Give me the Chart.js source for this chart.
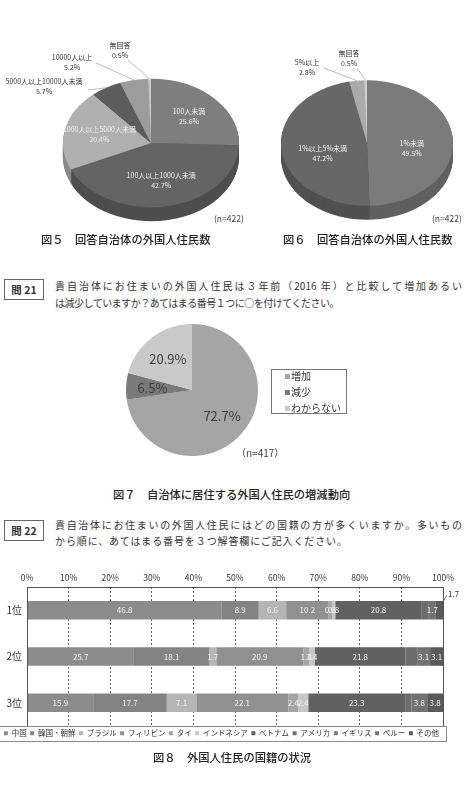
<!DOCTYPE html>
<html>
<head>
<meta charset="utf-8">
<script src="https://cdn.jsdelivr.net/npm/chart.js@4.4.0/dist/chart.umd.min.js"></script>
<style>
  body { margin: 0; background: #fff; font-family: "Noto Sans CJK JP", sans-serif; color: #333; }
  #page { position: relative; width: 464px; height: 800px; overflow: hidden; }
  .t { position: absolute; white-space: nowrap; }
  canvas { position: absolute; }
  .cap { font-size: 11.3px; line-height: 16px; color: #222; font-weight: 500; }
  .qbox { position: absolute; box-sizing: border-box; border: 1px solid #666; width: 40px; height: 21px;
          line-height: 19px; text-align: center; font-size: 10.5px; font-weight: bold; color: #333; }
  .ln { font-size: 10px; line-height: 14px; color: #333; text-align: justify; text-align-last: justify; }
  .n { font-size: 8.5px; line-height: 12px; color: #444; }
  #lg7 { position: absolute; left: 271px; top: 369px; width: 76px; height: 45px; box-sizing: border-box;
         border: 1px solid #777; font-size: 10px; color: #333; }
  #lg7 div { position: absolute; left: 19px; line-height: 14px; white-space: nowrap; }
  #lg7 span { position: absolute; left: -6px; top: 5px; width: 5px; height: 5px; }
</style>
</head>
<body>
<div id="page">
  <canvas id="fig5" width="240" height="205" style="left:0;top:30px"></canvas>
  <canvas id="fig6" width="224" height="205" style="left:240px;top:30px"></canvas>
  <div class="t n" style="left:214px;top:212px">(n=422)</div>
  <div class="t n" style="left:432px;top:212px">(n=422)</div>
  <div class="t cap" style="left:41px;top:231px">図５　回答自治体の外国人住民数</div>
  <div class="t cap" style="left:283px;top:231px">図６　回答自治体の外国人住民数</div>

  <div class="qbox" style="left:4px;top:279px">問 21</div>
  <div class="t ln" style="left:55px;top:279px;width:407px">貴自治体にお住まいの外国人住民は３年前（2016 年）と比較して増加あるい</div>
  <div class="t ln" style="left:55px;top:296px;letter-spacing:-0.5px;text-align:left;text-align-last:left">は減少していますか？あてはまる番号１つに○を付けてください。</div>

  <canvas id="fig7" width="260" height="150" style="left:100px;top:315px"></canvas>
  <div id="lg7"></div>
  <div class="t" style="left:236px;top:446px;font-size:10px;line-height:14px;color:#444">（n=417）</div>
  <div class="t cap" style="left:113px;top:486px">図７　自治体に居住する外国人住民の増減動向</div>

  <div class="qbox" style="left:4px;top:520px">問 22</div>
  <div class="t ln" style="left:55px;top:518px;width:407px">貴自治体にお住まいの外国人住民にはどの国籍の方が多くいますか。多いもの</div>
  <div class="t ln" style="left:55px;top:534px;width:292px">から順に、あてはまる番号を３つ解答欄にご記入ください。</div>

  <canvas id="fig8" width="464" height="185" style="left:0;top:565px"></canvas>
  <div class="t cap" style="left:153px;top:749px">図８　外国人住民の国籍の状況</div>
</div>

<script>
// 図5 外国人住民数
const fig5Labels = ['100人未満', '100人以上1000人未満', '1000人以上5000人未満', '5000人以上10000人未満', '10000人以上', '無回答'];
const fig5Values = [25.6, 42.7, 20.4, 5.7, 5.2, 0.5];

// 図6 外国人住民の割合
const fig6Labels = ['1%未満', '1%以上5%未満', '5%以上', '無回答'];
const fig6Values = [49.5, 47.2, 2.8, 0.5];

// 図7 増減動向
const fig7Labels = ['増加', '減少', 'わからない'];
const fig7Values = [72.7, 6.5, 20.9];

// 図8 国籍 (1位, 2位, 3位)
const rankLabels = ['1位', '2位', '3位'];
const axisTicks = [0, 10, 20, 30, 40, 50, 60, 70, 80, 90, 100];
const china = [46.8, 25.7, 15.9];
const korea = [8.9, 18.1, 17.7];
const brazil = [6.6, 1.7, 7.1];
const philippines = [10.2, 20.9, 22.1];
const thailand = [0.8, 1.4, 2.4];
const indonesia = [0.8, 1.4, 2.4];
const vietnam = [20.8, 21.8, 23.3];
const usa = [1.7, 2.8, 1.5];
const uk = [0, 0, 0];
const peru = [1.7, 3.1, 3.8];
const others = [1.7, 3.1, 3.8];

Chart.defaults.font.family = '"Noto Sans CJK JP", sans-serif';
Chart.defaults.color = '#333';

const shade = (hex, f) => {
  const n = parseInt(hex.slice(1), 16);
  const c = [n >> 16, (n >> 8) & 255, n & 255].map(v => Math.round(v * f));
  return 'rgb(' + c.join(',') + ')';
};

// pie drawn squashed (with a rim) to look like the tilted pies in the report
const tiltPie = {
  id: 'tiltPie',
  beforeDatasetsDraw(chart, args, opts) {
    const meta = chart.getDatasetMeta(0);
    const cx = meta.data[0].x, cy = meta.data[0].y, s = opts.squash;
    const ctx = chart.ctx;
    for (let d = opts.depth; d >= 1; d--) {
      ctx.save();
      ctx.translate(0, d);
      ctx.translate(cx, cy); ctx.scale(1, s); ctx.translate(-cx, -cy);
      meta.data.forEach((arc, i) => {
        const orig = arc.options;
        const c = shade(chart.data.datasets[0].backgroundColor[i], 0.78);
        arc.options = Object.assign({}, orig, { backgroundColor: c, borderColor: c, borderWidth: 0 });
        arc.draw(ctx);
        arc.options = orig;
      });
      ctx.restore();
    }
    ctx.save();
    ctx.translate(cx, cy); ctx.scale(1, s); ctx.translate(-cx, -cy);
  },
  afterDatasetsDraw(chart, args, opts) {
    const ctx = chart.ctx;
    ctx.restore();
    const meta = chart.getDatasetMeta(0);
    const ds = chart.data.datasets[0];
    const cx = meta.data[0].x, cy = meta.data[0].y, s = opts.squash;
    ctx.save();
    ctx.textAlign = 'center';
    ctx.textBaseline = 'middle';
    meta.data.forEach((arc, i) => {
      const pct = ds.data[i].toFixed(1) + '%';
      const mid = (arc.startAngle + arc.endAngle) / 2;
      const call = (opts.callouts || []).find(c => c.i === i);
      if (call) {
        const ex = cx + Math.cos(mid) * arc.outerRadius;
        const ey = cy + Math.sin(mid) * arc.outerRadius * s;
        ctx.strokeStyle = '#aaa'; ctx.lineWidth = 0.8;
        ctx.beginPath(); ctx.moveTo(call.ax, call.ay); ctx.lineTo(ex, ey); ctx.stroke();
        ctx.fillStyle = '#333';
        ctx.font = opts.font;
        ctx.fillText(chart.data.labels[i], call.x, call.y);
        ctx.fillText(pct, call.x, call.y + opts.lineGap);
        return;
      }
      const r = arc.outerRadius * opts.labelRadius;
      const x = cx + Math.cos(mid) * r;
      const y = cy + Math.sin(mid) * r * s + (opts.labelDy || 0);
      ctx.fillStyle = opts.labelColor;
      ctx.font = opts.font;
      if (opts.withName) {
        ctx.fillText(chart.data.labels[i], x, y - opts.lineGap / 2);
        ctx.fillText(pct, x, y + opts.lineGap / 2);
      } else {
        ctx.fillText(pct, x, y);
      }
    });
    ctx.restore();
  }
};

const pieOptions = (padding, tilt) => ({
  responsive: false,
  animation: false,
  events: [],
  layout: { padding: padding },
  plugins: { legend: { display: false }, tooltip: { enabled: false }, tiltPie: tilt }
});

new Chart(document.getElementById('fig5'), {
  type: 'pie',
  data: {
    labels: fig5Labels,
    datasets: [{ data: fig5Values, borderWidth: 0,
      backgroundColor: ['#7e7e7e', '#646464', '#b0b0b0', '#5c5c5c', '#9c9c9c', '#c8c8c8'] }]
  },
  options: pieOptions({ left: 63, right: 1, top: 25, bottom: 4 }, {
    squash: 0.73, depth: 14, labelRadius: 0.6, labelColor: '#f0f0f0', withName: true,
    font: '7px "Noto Sans CJK JP"', lineGap: 10,
    callouts: [
      { i: 5, x: 120, y: 15, ax: 128, ay: 30 },
      { i: 4, x: 72, y: 27, ax: 96, ay: 33 },
      { i: 3, x: 44, y: 51, ax: 88, ay: 60 }
    ]
  }),
  plugins: [tiltPie]
});

new Chart(document.getElementById('fig6'), {
  type: 'pie',
  data: {
    labels: fig6Labels,
    datasets: [{ data: fig6Values, borderWidth: 0,
      backgroundColor: ['#7b7b7b', '#676767', '#ababab', '#d0d0d0'] }]
  },
  options: pieOptions({ left: 41, right: 11, top: 25, bottom: 4 }, {
    squash: 0.73, depth: 14, labelRadius: 0.52, labelDy: 6, labelColor: '#f0f0f0', withName: true,
    font: '7px "Noto Sans CJK JP"', lineGap: 10,
    callouts: [
      { i: 3, x: 109, y: 23, ax: 117, ay: 38 },
      { i: 2, x: 67, y: 32, ax: 84, ay: 38 }
    ]
  }),
  plugins: [tiltPie]
});

const fig7Colors = ['#a5a5a5', '#7a7a7a', '#c9c9c9'];
new Chart(document.getElementById('fig7'), {
  type: 'pie',
  data: { labels: fig7Labels, datasets: [{ data: fig7Values, borderWidth: 0, backgroundColor: fig7Colors }] },
  options: pieOptions({ left: 26, right: 102, top: 9, bottom: 9 }, {
    squash: 1, depth: 0, labelRadius: 0.6, labelColor: '#3c3c3c', withName: false,
    font: '13px "Noto Sans CJK JP"', lineGap: 0
  }),
  plugins: [tiltPie]
});
// legend for 図7
document.getElementById('lg7').innerHTML = fig7Labels.map((l, i) =>
  '<div style="top:' + (-1 + i * 16) + 'px"><span style="background:' + fig7Colors[i] + '"></span>' + l + '</div>').join('');

// 図8 stacked bars
const series = [
  ['中国', china, '#8c8c8c'],
  ['韓国・朝鮮', korea, '#838383'],
  ['ブラジル', brazil, '#b5b5b5'],
  ['フィリピン', philippines, '#909090'],
  ['タイ', thailand, '#a4a4a4'],
  ['インドネシア', indonesia, '#c6c6c6'],
  ['ベトナム', vietnam, '#616161'],
  ['アメリカ', usa, '#6c6c6c'],
  ['イギリス', uk, '#7c7c7c'],
  ['ペルー', peru, '#727272'],
  ['その他', others, '#5a5a5a']
];
const unlabelled = ['アメリカ'];

const barLabels = {
  id: 'barLabels',
  afterDatasetsDraw(chart) {
    const ctx = chart.ctx;
    const dss = chart.data.datasets;
    ctx.save();
    ctx.font = '8px "Noto Sans CJK JP"';
    ctx.textBaseline = 'middle';
    dss.forEach((ds, di) => {
      if (unlabelled.includes(ds.label)) return;
      chart.getDatasetMeta(di).data.forEach((bar, i) => {
        const v = ds.data[i];
        if (!v) return;
        const w = Math.abs(bar.x - bar.base);
        const last = dss.slice(di + 1).every(d => !d.data[i]);
        if (last && w < 9) {
          const top = bar.y - bar.height / 2;
          ctx.strokeStyle = '#555'; ctx.lineWidth = 0.8;
          ctx.beginPath(); ctx.moveTo(bar.x - 2, top + 3); ctx.lineTo(bar.x + 4, top - 6); ctx.stroke();
          ctx.fillStyle = '#333'; ctx.textAlign = 'left';
          ctx.fillText(v.toFixed(1), bar.x + 5, top - 7);
        } else {
          ctx.fillStyle = '#f2f2f2'; ctx.textAlign = 'center';
          ctx.fillText(v.toFixed(1), (bar.x + bar.base) / 2, bar.y);
        }
      });
    });
    ctx.restore();
  },
  afterDraw(chart) {
    const ctx = chart.ctx;
    const a = chart.chartArea;
    ctx.save();
    ctx.strokeStyle = '#555'; ctx.lineWidth = 1;
    ctx.strokeRect(Math.round(a.left) + 0.5, Math.round(a.top) + 0.5, Math.round(a.width), Math.round(a.height));
    const hb = chart.legend.legendHitBoxes;
    const l = Math.min(...hb.map(h => h.left)) - 7;
    const r = Math.max(...hb.map(h => h.left + h.width)) + 7;
    const t = hb[0].top - 4, b = hb[0].top + hb[0].height + 3;
    ctx.strokeStyle = '#888';
    ctx.strokeRect(Math.round(l) + 0.5, Math.round(t) + 0.5, Math.round(r - l), Math.round(b - t));
    ctx.restore();
  }
};

new Chart(document.getElementById('fig8'), {
  type: 'bar',
  data: {
    labels: rankLabels,
    datasets: series.map(([label, data, color]) => ({
      label: label, data: data, backgroundColor: color, borderWidth: 0,
      barPercentage: 0.4, categoryPercentage: 1
    }))
  },
  options: {
    indexAxis: 'y',
    responsive: false,
    animation: false,
    events: [],
    layout: { padding: { left: 0, right: 21, top: 4, bottom: 3 } },
    plugins: {
      tooltip: { enabled: false },
      legend: {
        position: 'bottom',
        labels: { boxWidth: 4, boxHeight: 4, padding: 3.5, font: { size: 7.5 }, color: '#333' }
      }
    },
    scales: {
      x: {
        position: 'top', stacked: true, min: 0, max: 100,
        afterBuildTicks: s => { s.ticks = axisTicks.map(v => ({ value: v })); },
        ticks: { callback: v => v + '%', font: { size: 8.5 }, color: '#333', padding: 4 },
        grid: { color: '#666', drawTicks: false },
        border: { display: false, dash: [2, 2] }
      },
      y: {
        stacked: true,
        grid: { display: false, drawTicks: false },
        border: { display: false },
        ticks: { font: { size: 10 }, color: '#333', padding: 5 },
        afterFit: s => { s.width = 27; }
      }
    }
  },
  plugins: [barLabels]
});
</script>
</body>
</html>
